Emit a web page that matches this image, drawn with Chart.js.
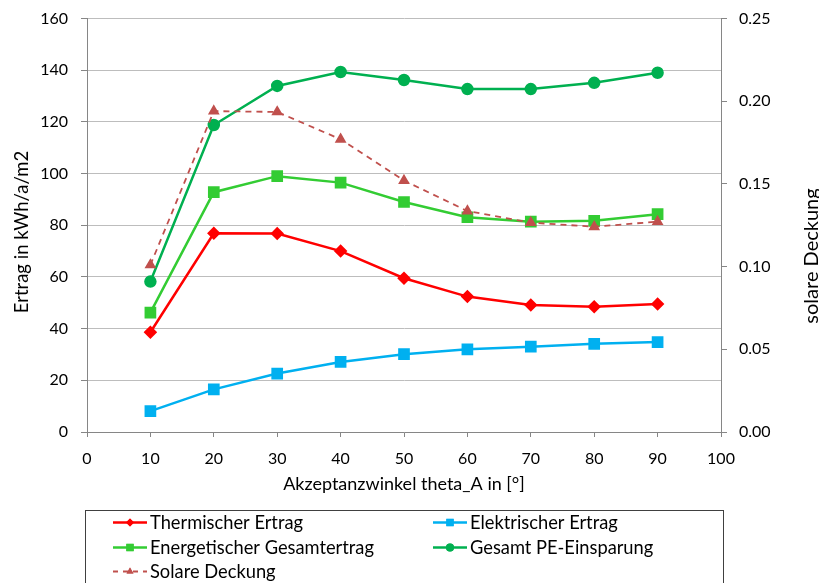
<!DOCTYPE html>
<html>
<head>
<meta charset="utf-8">
<script src="https://cdn.jsdelivr.net/npm/chart.js@4.4.0/dist/chart.umd.min.js"></script>
<style>
  html, body { margin: 0; padding: 0; background: #fff; }
  #wrap { width: 819px; height: 583px; }
</style>
</head>
<body>
<div id="wrap"><canvas id="chart" width="819" height="583"></canvas></div>
<script>
const angles = [10, 20, 30, 40, 50, 60, 70, 80, 90];
const thermisch = [38.6, 76.9, 76.8, 70.0, 59.5, 52.4, 49.1, 48.5, 49.5];
const elektrisch = [8.1, 16.5, 22.6, 27.1, 30.1, 32.0, 33.0, 34.1, 34.8];
const energetisch = [46.2, 92.8, 99.0, 96.5, 89.0, 83.1, 81.4, 81.7, 84.3];
const peEinsparung = [58.2, 118.8, 133.9, 139.3, 136.2, 132.7, 132.7, 135.1, 139.0];
const solareDeckung = [0.101, 0.194, 0.1935, 0.177, 0.152, 0.1336, 0.1266, 0.1241, 0.1272];

const FONT = 'Lato, "Open Sans", sans-serif';
const AXIS = '#868686';

function pts(vals) {
  return vals.map((v, i) => ({ x: angles[i], y: v }));
}

const datasets = [
  { label: 'Thermischer Ertrag', data: pts(thermisch), borderColor: '#FF0000', backgroundColor: '#FF0000',
    pointStyle: 'rectRot', pointRadius: 5, borderWidth: 2.5, yAxisID: 'y', order: 4 },
  { label: 'Elektrischer Ertrag', data: pts(elektrisch), borderColor: '#00B0F0', backgroundColor: '#00B0F0',
    pointStyle: 'rect', pointRadius: 6.5, borderWidth: 2.5, yAxisID: 'y', order: 3 },
  { label: 'Energetischer Gesamtertrag', data: pts(energetisch), borderColor: '#33CC33', backgroundColor: '#33CC33',
    pointStyle: 'rect', pointRadius: 6.5, borderWidth: 2.5, yAxisID: 'y', order: 2 },
  { label: 'Gesamt PE-Einsparung', data: pts(peEinsparung), borderColor: '#00B050', backgroundColor: '#00B050',
    pointStyle: 'circle', pointRadius: 5, borderWidth: 2.5, yAxisID: 'y', order: 1 },
  { label: 'Solare Deckung', data: pts(solareDeckung), borderColor: '#C0504D', backgroundColor: '#C0504D',
    pointStyle: 'triangle', pointRadius: 5, borderWidth: 1.8, borderDash: [6, 5], yAxisID: 'y1', order: 0 }
];

// axis titles (both read bottom to top) and the boxed two-column legend
const extras = {
  id: 'extras',
  afterDraw(chart) {
    const ctx = chart.ctx;
    ctx.save();
    ctx.fillStyle = '#000';
    ctx.textAlign = 'center';
    ctx.textBaseline = 'middle';
    [['Ertrag in kWh/a/m2', 22, 232, 18.5], ['solare Deckung', 812, 256, 20]].forEach(([t, x, y, size]) => {
      ctx.save();
      ctx.translate(x, y);
      ctx.rotate(-Math.PI / 2);
      ctx.font = size + 'px ' + FONT;
      ctx.fillText(t, 0, 0);
      ctx.restore();
    });

    ctx.strokeStyle = '#404040';
    ctx.lineWidth = 1;
    ctx.strokeRect(85.5, 510.5, 638, 100);
    const cols = [113, 433];
    const rows = [522.5, 547.5, 571.5];
    ctx.font = '18.3px ' + FONT;
    ctx.textAlign = 'left';
    chart.data.datasets.forEach((ds, i) => {
      const x = cols[i % 2];
      const y = rows[Math.floor(i / 2)];
      ctx.strokeStyle = ds.borderColor;
      ctx.lineWidth = ds.borderWidth;
      ctx.setLineDash(ds.borderDash ? [5, 5] : []);
      ctx.beginPath();
      ctx.moveTo(x, y);
      ctx.lineTo(x + 34, y);
      ctx.stroke();
      ctx.setLineDash([]);
      ctx.fillStyle = ds.backgroundColor;
      Chart.helpers.drawPoint(ctx, { pointStyle: ds.pointStyle, radius: ds.pointRadius * 0.8, rotation: 0 }, x + 17, y);
      ctx.fill();
      ctx.fillStyle = '#000';
      ctx.fillText(ds.label, x + 37, y + 1);
    });
    ctx.restore();
  }
};

function fixY(width) {
  return s => {
    s.width = width;
    s.paddingTop = 0;
    s.paddingBottom = 0;
  };
}

new Chart(document.getElementById('chart'), {
  type: 'line',
  data: { datasets: datasets },
  options: {
    responsive: false,
    animation: false,
    layout: { padding: { top: 18.5, bottom: 88, left: 0, right: 0 } },
    plugins: { legend: { display: false }, tooltip: { enabled: false } },
    elements: { line: { tension: 0 } },
    scales: {
      x: {
        type: 'linear', min: 0, max: 100,
        ticks: { stepSize: 10, color: '#000', font: { family: FONT, size: 16 }, padding: 12, maxRotation: 0 },
        grid: { drawOnChartArea: false, drawTicks: true, tickLength: 5, color: AXIS },
        border: { color: AXIS },
        title: { display: true, text: 'Akzeptanzwinkel theta_A in [°]', color: '#000',
                 font: { family: FONT, size: 18 }, padding: { top: 4, bottom: 0 } },
        afterFit(s) { s.height = 63; }
      },
      y: {
        position: 'left', min: 0, max: 160,
        ticks: { stepSize: 20, color: '#000', font: { family: FONT, size: 16 }, padding: 13 },
        grid: { color: '#BDBDBD', tickColor: AXIS, tickLength: 6 },
        border: { color: AXIS },
        afterFit: fixY(87)
      },
      y1: {
        position: 'right', min: 0, max: 0.25,
        ticks: { stepSize: 0.05, color: '#000', font: { family: FONT, size: 16 }, padding: 12,
                 callback: v => v.toFixed(2) },
        grid: { drawOnChartArea: false, color: AXIS, tickLength: 6 },
        border: { color: AXIS },
        afterFit: fixY(98)
      }
    }
  },
  plugins: [extras]
});
</script>
</body>
</html>
